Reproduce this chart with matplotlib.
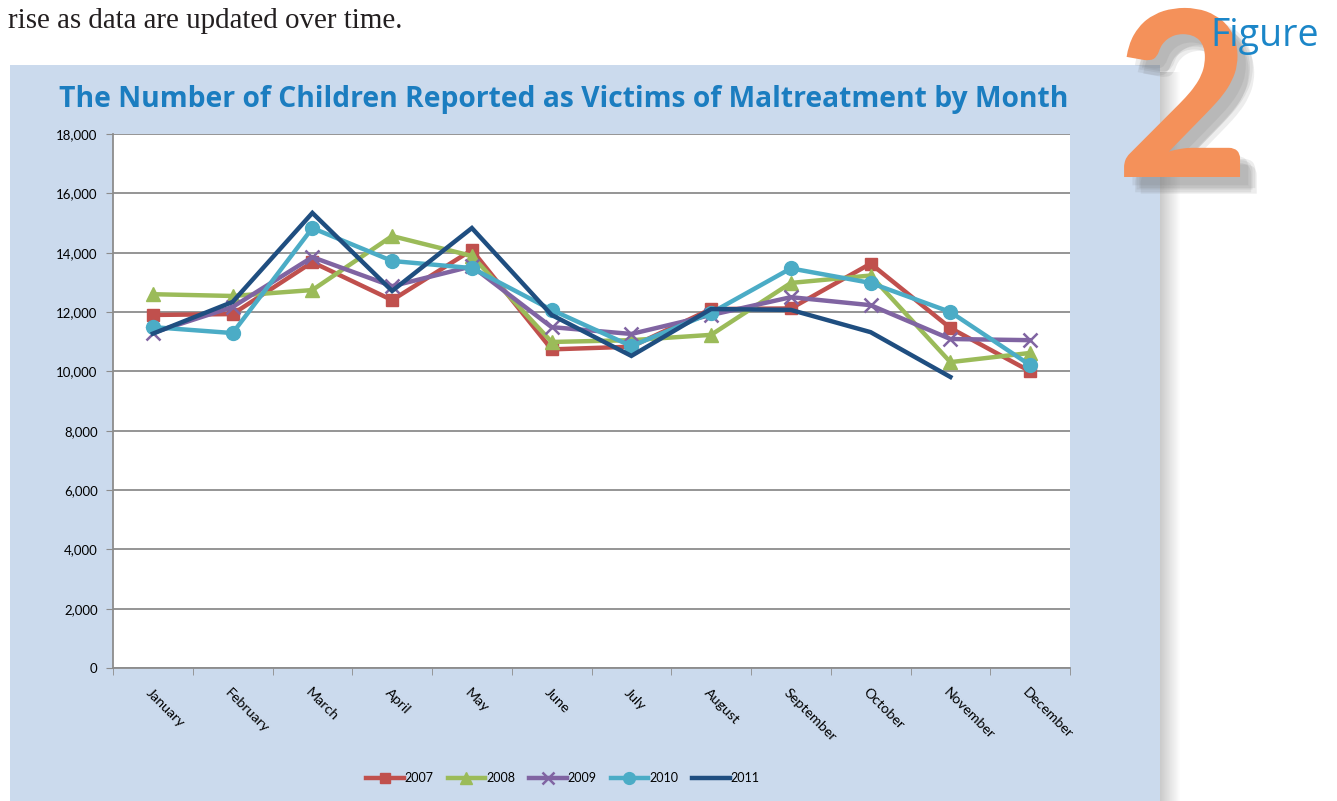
import matplotlib
matplotlib.use("Agg")
import matplotlib.pyplot as plt
import matplotlib.patheffects as pe
from matplotlib.patches import Rectangle
from matplotlib.transforms import ScaledTranslation

months = ["January", "February", "March", "April", "May", "June", "July",
          "August", "September", "October", "November", "December"]
years = ["2007", "2008", "2009", "2010", "2011"]
v2007 = [11900, 11930, 13680, 12400, 14090, 10740, 10830, 12100, 12120, 13630, 11460, 10000]
v2008 = [12600, 12540, 12740, 14560, 13890, 10990, 11050, 11230, 12980, 13230, 10310, 10620]
v2009 = [11300, 12170, 13850, 12870, 13540, 11490, 11260, 11900, 12500, 12230, 11090, 11050]
v2010 = [11490, 11290, 14830, 13720, 13480, 12070, 10850, 11970, 13470, 12980, 12000, 10210]
v2011 = [11270, 12340, 15340, 12710, 14830, 11900, 10520, 12100, 12070, 11320, 9810]
series = [v2007, v2008, v2009, v2010, v2011]
colors = ["#C0504D", "#9BBB59", "#8064A2", "#4BACC6", "#1F4E80"]
markers = ["s", "^", "x", "o", None]
yticks = list(range(0, 18001, 2000))
title = "The Number of Children Reported as Victims of Maltreatment by Month"

W, H = 1337, 801
fig = plt.figure(figsize=(W / 100, H / 100), dpi=100)
fig.patch.set_facecolor("white")

# right side shadow of panel
for i in range(20):
    fig.patches.append(Rectangle(((1160 + i) / W, 0), 1 / W, (801 - 72) / H,
                                 transform=fig.transFigure,
                                 facecolor=(0.55, 0.55, 0.55, 0.45 * (1 - i / 20)),
                                 edgecolor="none", zorder=0))
# light blue panel
fig.patches.append(Rectangle((10 / W, 0), 1150 / W, (801 - 65) / H,
                             transform=fig.transFigure, facecolor="#CBDAED",
                             edgecolor="none", zorder=0.5))

fig.text(8 / W, 1 - 21 / H, "rise as data are updated over time.",
         fontsize=20.9, family="Liberation Serif", color="#231F20",
         va="center", ha="left")

# Big "2" with soft shadow
two = fig.text(1183 / W, 1 - 110 / H, "2", fontsize=166, family="Lato",
               weight="black", color="#F4915A", ha="center", va="center",
               zorder=5)
shadows = []
for dx, dy in [(6, -6), (9, -9), (12, -12), (8, -11), (11, -8)]:
    shadows.append(pe.SimplePatchShadow(offset=(dx, dy), shadow_rgbFace="#6e6e6e",
                                        alpha=0.12))
two.set_path_effects(shadows + [pe.Normal()])
fig.text(1265 / W, 1 - 36 / H, "Figure", fontsize=27, family="Open Sans",
         color="#1B86C8", ha="center", va="center", zorder=6)

fig.text(564 / W, 1 - 99 / H, title, fontsize=20.3, family="Open Sans",
         weight="bold", color="#1B7DC0", ha="center", va="center")

ax = fig.add_axes([113 / W, 1 - 668 / H, (1070 - 113) / W, (668 - 134) / H])
ax.set_facecolor("white")
ax.set_zorder(2)
x = list(range(len(months)))
handles = []
for yr, vals, c, m in zip(years, series, colors, markers):
    kw = dict(color=c, linewidth=3.2, solid_joinstyle="miter")
    if m == "x":
        kw.update(marker="x", markersize=10, markeredgewidth=1.8)
    elif m == "s":
        kw.update(marker="s", markersize=9)
    elif m == "^":
        kw.update(marker="^", markersize=10)
    elif m == "o":
        kw.update(marker="o", markersize=10)
    ln, = ax.plot(x[:len(vals)], vals, label=yr, zorder=3, **kw)
    handles.append(ln)

ax.set_xlim(-0.5, 11.5)
ax.set_ylim(0, 18000)
ax.set_yticks(yticks)
ax.set_yticklabels([f"{v:,}" for v in yticks], fontsize=9.5, family="Lato")
ax.yaxis.grid(True, color="#8C8C8C", linewidth=1.3)
ax.set_axisbelow(True)
ax.tick_params(axis="y", length=5, color="#8C8C8C", pad=6)
ax.set_xticks(x)
ax.set_xticklabels(months, fontsize=10.3, family="Lato", rotation=-45,
                   ha="left", va="top", rotation_mode="anchor")
ax.tick_params(axis="x", which="major", length=0, pad=13)
ax.set_xticks([i - 0.5 for i in range(13)], minor=True)
ax.tick_params(axis="x", which="minor", length=5, color="#8C8C8C")
for s in ["top", "right"]:
    ax.spines[s].set_visible(False)
for s in ["left", "bottom"]:
    ax.spines[s].set_color("#8C8C8C")
    ax.spines[s].set_linewidth(1.3)
for lab in ax.get_xticklabels():
    lab.set_transform(lab.get_transform() + ScaledTranslation(-0.01, 0, fig.dpi_scale_trans))

leg = fig.legend(handles=handles, loc="center", bbox_to_anchor=(563 / W, 1 - 778 / H),
                 ncol=5, frameon=False, handlelength=3.0,
                 columnspacing=1.1, handletextpad=0.1, markerscale=0.85,
                 prop={"family": "Lato", "size": 9})

fig.savefig("out.png", dpi=100, facecolor="white")
